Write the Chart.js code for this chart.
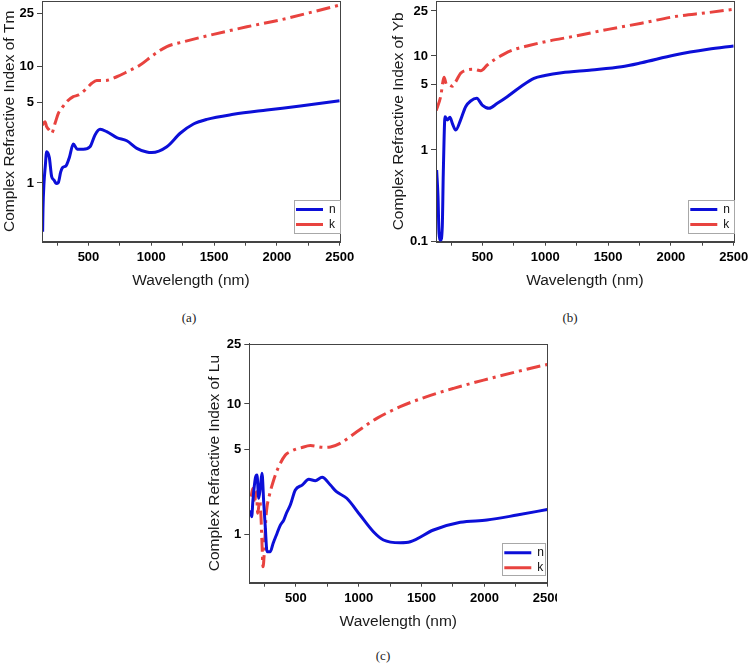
<!DOCTYPE html>
<html>
<head>
<meta charset="utf-8">
<script src="https://cdn.jsdelivr.net/npm/chart.js@4.4.1/dist/chart.umd.min.js"></script>
<style>
  html, body { margin: 0; padding: 0; background: #ffffff; }
  body { width: 749px; height: 665px; position: relative; overflow: hidden; }
  .panel { position: absolute; overflow: hidden; }
  .panel canvas { display: block; }
  .cap { position: absolute; font-family: 'Liberation Serif', 'Times New Roman', serif; font-size: 13px; color: #222; transform: translate(-50%, -50%); white-space: nowrap; }
</style>
</head>
<body>
<div class="panel" style="left:0px;top:0px;width:370px;height:300px"><canvas id="chartTm" width="370" height="300" style="width:370px;height:300px"></canvas></div>
<div class="panel" style="left:389px;top:0px;width:360px;height:300px"><canvas id="chartYb" width="360" height="300" style="width:360px;height:300px"></canvas></div>
<div class="panel" style="left:200px;top:330px;width:357px;height:310px"><canvas id="chartLu" width="370" height="310" style="width:370px;height:310px"></canvas></div>
<div class="cap" style="left:189px;top:318px">(a)</div>
<div class="cap" style="left:570px;top:318px">(b)</div>
<div class="cap" style="left:383px;top:656px">(c)</div>
<script>
// ---------------- data ----------------
const SERIES_NAMES = ['n', 'k'];
const X_TICKS = [250, 500, 750, 1000, 1250, 1500, 1750, 2000, 2250, 2500];
const X_TICK_LABELS = ['', '500', '', '1000', '', '1500', '', '2000', '', '2500'];
const Y_TICKS_TM = [1, 5, 10, 25];
const Y_TICKS_YB = [0.1, 1, 5, 10, 25];
const Y_TICKS_LU = [1, 5, 10, 25];
const Y_TICK_LABELS_TM = ['1', '5', '10', '25'];
const Y_TICK_LABELS_YB = ['0.1', '1', '5', '10', '25'];
const Y_TICK_LABELS_LU = ['1', '5', '10', '25'];

// (a) Tm
const TM_N_WL = [135, 138, 146, 156, 167, 188, 207, 226, 242, 260, 279, 295, 321, 348, 379, 411, 459, 512, 552, 592, 645, 725, 805, 885, 964, 1004, 1124, 1230, 1336, 1442, 1654, 1920, 2186, 2500];
const TM_N = [0.377, 0.6, 1.0, 1.39, 1.87, 1.67, 1.135, 1.06, 0.99, 1.01, 1.25, 1.37, 1.41, 1.67, 2.18, 1.97, 1.97, 2.07, 2.62, 2.93, 2.80, 2.48, 2.33, 2.00, 1.86, 1.84, 2.07, 2.71, 3.26, 3.58, 3.96, 4.32, 4.68, 5.2];
const TM_K_WL = [132, 154, 167, 188, 207, 234, 260, 287, 327, 379, 419, 473, 526, 566, 632, 725, 805, 911, 1017, 1124, 1256, 1495, 1761, 2026, 2292, 2500];
const TM_K = [3.2, 3.42, 3.09, 2.89, 2.71, 3.31, 4.04, 4.47, 5.1, 5.61, 5.79, 6.38, 7.25, 7.65, 7.65, 8.22, 9.0, 10.26, 12.2, 14.1, 15.3, 17.4, 19.8, 22.3, 25.7, 28.8];

// (b) Yb
const YB_N_WL = [135, 146, 154, 167, 180, 188, 202, 220, 241, 260, 287, 326, 366, 406, 454, 498, 552, 618, 697, 804, 910, 997, 1130, 1369, 1607, 1766, 2031, 2296, 2500];
const YB_N = [0.605, 0.31, 0.124, 0.104, 0.146, 0.557, 2.26, 2.09, 2.23, 1.92, 1.63, 2.09, 2.89, 3.32, 3.55, 3.01, 2.78, 3.14, 3.69, 4.71, 5.78, 6.2, 6.64, 7.1, 7.69, 8.48, 10.2, 11.46, 12.25];
const YB_K_WL = [132, 167, 194, 215, 233, 260, 287, 326, 379, 432, 486, 538, 591, 671, 750, 856, 989, 1236, 1501, 1766, 2031, 2296, 2500];
const YB_K = [2.63, 3.69, 5.93, 4.95, 4.95, 4.77, 5.33, 6.55, 7.1, 7.22, 6.98, 8.02, 9.06, 10.4, 11.4, 12.25, 13.3, 15.0, 17.2, 19.5, 22.3, 24.2, 25.9];

// (c) Lu
const LU_N_WL = [138, 149, 159, 178, 191, 205, 218, 231, 245, 257, 271, 297, 319, 351, 377, 404, 425, 456, 496, 550, 603, 655, 709, 775, 823, 905, 1011, 1117, 1197, 1330, 1410, 1595, 1808, 2020, 2259, 2500];
const LU_N = [1.58, 1.395, 1.91, 2.89, 3.07, 1.98, 2.46, 3.17, 1.8, 1.155, 0.72, 0.72, 0.84, 1.02, 1.19, 1.31, 1.49, 1.74, 2.31, 2.54, 2.83, 2.76, 2.94, 2.54, 2.24, 1.98, 1.44, 1.05, 0.898, 0.853, 0.869, 1.085, 1.255, 1.31, 1.44, 1.6];
const LU_K_WL = [144, 159, 170, 186, 197, 213, 223, 231, 239, 249, 261, 271, 284, 324, 364, 417, 456, 507, 536, 616, 722, 775, 852, 985, 1144, 1330, 1542, 1754, 1993, 2259, 2500];
const LU_K = [2.04, 2.39, 1.8, 2.24, 1.49, 1.91, 1.395, 0.84, 0.54, 0.70, 1.31, 1.69, 1.98, 2.8, 3.6, 4.49, 4.78, 5.03, 5.1, 5.3, 5.15, 5.18, 5.48, 6.54, 8.03, 9.59, 11.2, 12.7, 14.4, 16.4, 18.3];

// ---------------- styling / scale configuration ----------------
const BLUE = '#0c0fd8';
const RED = '#e8433f';
const FONT = "'Liberation Sans', Arial, sans-serif";

// Axis warp: where each labelled tick sits along the axis (fraction of axis height)
const AXIS_WARP = {
  chartTm: { values: [1, 5, 10, 25], fracs: [0.2439, 0.5775, 0.7279, 0.9489] },
  chartYb: { values: [0.1, 1, 5, 10, 25], fracs: [0.0, 0.381, 0.6539, 0.7715, 0.9585] },
  chartLu: { values: [1, 5, 10, 25], fracs: [0.2023, 0.5577, 0.7471, 0.9979] }
};

class KnotLogScale extends Chart.LogarithmicScale {
  static id = 'knotlog';
  _warp() {
    const w = AXIS_WARP[this.chart.canvas.id];
    return { L: w.values.map(Math.log10), F: w.fracs };
  }
  _toFrac(value) {
    const { L, F } = this._warp();
    const lv = Math.log10(value);
    const n = L.length;
    let i = 0;
    if (lv <= L[0]) i = 0;
    else if (lv >= L[n - 1]) i = n - 2;
    else { while (lv > L[i + 1]) i++; }
    return F[i] + (lv - L[i]) * (F[i + 1] - F[i]) / (L[i + 1] - L[i]);
  }
  getPixelForValue(value) {
    if (value === undefined || value === null || isNaN(value) || value <= 0) return NaN;
    return this.getPixelForDecimal(this._toFrac(value));
  }
  getValueForPixel(pixel) {
    const d = this.getDecimalForPixel(pixel);
    const { L, F } = this._warp();
    const n = F.length;
    let i = 0;
    if (d <= F[0]) i = 0;
    else if (d >= F[n - 1]) i = n - 2;
    else { while (d > F[i + 1]) i++; }
    return Math.pow(10, L[i] + (d - F[i]) * (L[i + 1] - L[i]) / (F[i + 1] - F[i]));
  }
}
Chart.register(KnotLogScale);

const framePlugin = {
  id: 'legendFrame',
  afterLayout(chart, args, opts) {
    const lg = chart.legend;
    if (!lg || opts.w === undefined) return;
    lg.left = opts.x - 1;
    lg.top = opts.y + 0.5;
    lg.width = opts.w + 1;
    lg.height = opts.h + 10;
    lg.right = lg.left + lg.width;
    lg.bottom = lg.top + lg.height;
  },
  afterDraw(chart, args, opts) {
    const { ctx, chartArea: a } = chart;
    ctx.save();
    ctx.lineWidth = 1;
    ctx.strokeStyle = '#444';
    ctx.strokeRect(Math.round(a.left) + 0.5, Math.round(a.top) + 0.5, Math.round(a.right - a.left), Math.round(a.bottom - a.top));
    if (opts.w !== undefined) {
      ctx.strokeStyle = '#a8a8a8';
      ctx.strokeRect(Math.round(opts.x) + 0.5, Math.round(opts.y) + 0.5, Math.round(opts.w), Math.round(opts.h));
    }
    ctx.restore();
  }
};

function pts(xs, ys) { return xs.map((x, i) => ({ x: x, y: ys[i] })); }

function makeChart(id, cfg) {
  return new Chart(document.getElementById(id), {
    type: 'line',
    data: {
      datasets: [
        { label: SERIES_NAMES[0], data: pts(cfg.nWl, cfg.n), borderColor: BLUE, backgroundColor: BLUE,
          borderWidth: 3, pointRadius: 0, cubicInterpolationMode: 'monotone', fill: false },
        { label: SERIES_NAMES[1], data: pts(cfg.kWl, cfg.k), borderColor: RED, backgroundColor: RED,
          borderWidth: 3, borderDash: [14, 5, 3, 5], borderCapStyle: 'butt', pointRadius: 0,
          cubicInterpolationMode: 'monotone', fill: false }
      ]
    },
    options: {
      responsive: false,
      animation: false,
      devicePixelRatio: 1,
      layout: { padding: cfg.pad },
      plugins: {
        tooltip: { enabled: false },
        legend: {
          display: true,
          position: 'chartArea',
          align: 'start',
          labels: {
            usePointStyle: true,
            pointStyle: 'line',
            pointStyleWidth: 27,
            padding: 3,
            color: '#111',
            font: { family: FONT, size: 12 },
            generateLabels(chart) {
              const items = Chart.defaults.plugins.legend.labels.generateLabels(chart);
              items.forEach(it => { if (it.lineDash && it.lineDash.length) it.lineDash = [3, 7, 17, 30]; });
              return items;
            }
          }
        },
        legendFrame: cfg.legendBox
      },
      scales: {
        x: {
          type: 'linear',
          min: 130,
          max: 2500,
          afterBuildTicks: s => { s.ticks = X_TICKS.map(v => ({ value: v })); },
          afterFit: s => { s.height = 48; s.paddingLeft = 0; s.paddingRight = 0; },
          ticks: {
            autoSkip: false, maxRotation: 0, minRotation: 0, padding: 4, color: '#000',
            font: { family: FONT, size: 13, weight: 'bold' },
            callback: v => { const i = X_TICKS.indexOf(v); return i >= 0 ? X_TICK_LABELS[i] : ''; }
          },
          grid: { drawOnChartArea: false, drawTicks: true, tickLength: 4, tickColor: '#444', tickWidth: 1 },
          border: { display: true, color: '#444', width: 1 },
          title: { display: true, text: 'Wavelength (nm)', color: '#1a1a1a', font: { family: FONT, size: 15.5 }, padding: 0 }
        },
        y: {
          type: 'knotlog',
          min: cfg.yMin,
          max: cfg.yMax,
          afterBuildTicks: s => { s.ticks = cfg.yTicks.map(v => ({ value: v })); },
          afterFit: s => { s.width = cfg.yW; s.paddingTop = 0; s.paddingBottom = 0; },
          ticks: {
            autoSkip: false, padding: 3, color: '#000',
            font: { family: FONT, size: 13, weight: 'bold' },
            callback: v => { const i = cfg.yTicks.indexOf(v); return i >= 0 ? cfg.yLabels[i] : ''; }
          },
          grid: { drawOnChartArea: false, drawTicks: true, tickLength: 5, tickColor: '#444', tickWidth: 1 },
          border: { display: true, color: '#444', width: 1 },
          title: { display: true, text: cfg.yTitle, color: '#1a1a1a', font: { family: FONT, size: 15.5 }, padding: 0 }
        }
      }
    },
    plugins: [framePlugin]
  });
}

makeChart('chartTm', {
  nWl: TM_N_WL, n: TM_N, kWl: TM_K_WL, k: TM_K,
  yTicks: Y_TICKS_TM, yLabels: Y_TICK_LABELS_TM, yMin: 0.3, yMax: 31,
  yTitle: 'Complex Refractive Index of Tm', yW: 42,
  pad: { left: 0, right: 30.3, top: 1, bottom: 10.3 },
  legendBox: { x: 294, y: 200, w: 45.5, h: 33.3 }
});
makeChart('chartYb', {
  nWl: YB_N_WL, n: YB_N, kWl: YB_K_WL, k: YB_K,
  yTicks: Y_TICKS_YB, yLabels: Y_TICK_LABELS_YB, yMin: 0.1, yMax: 30.7,
  yTitle: 'Complex Refractive Index of Yb', yW: 47,
  pad: { left: 0, right: 15.3, top: 1, bottom: 10.3 },
  legendBox: { x: 688.3 - 389, y: 200, w: 45.5, h: 33.3 }
});
makeChart('chartLu', {
  nWl: LU_N_WL, n: LU_N, kWl: LU_K_WL, k: LU_K,
  yTicks: Y_TICKS_LU, yLabels: Y_TICK_LABELS_LU, yMin: 0.4, yMax: 25,
  yTitle: 'Complex Refractive Index of Lu', yW: 43.6,
  pad: { left: 5.7, right: 22.7, top: 13.5, bottom: 9.3 },
  legendBox: { x: 502.3 - 200, y: 543.3 - 330, w: 43, h: 31.7 }
});
</script>
</body>
</html>
